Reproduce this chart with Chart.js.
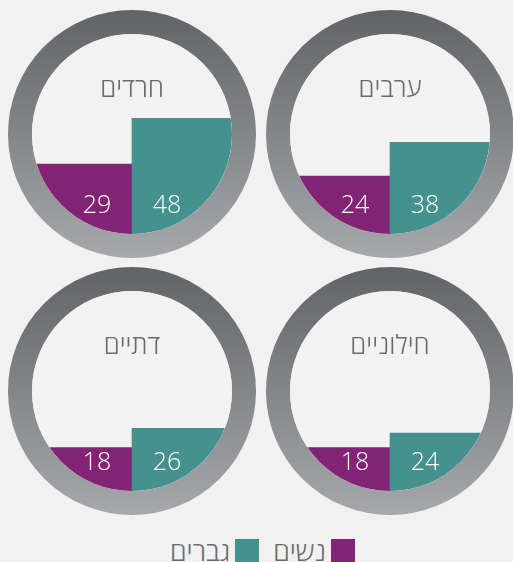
<!DOCTYPE html>
<html lang="he">
<head>
<meta charset="utf-8">
<script src="https://cdn.jsdelivr.net/npm/chart.js@4/dist/chart.umd.min.js"></script>
<style>
html,body{margin:0;padding:0;background:#f1f1f1;overflow:hidden;}
body{width:513px;height:562px;position:relative;font-family:"Open Sans","DejaVu Sans",sans-serif;}
canvas{position:absolute;}
#legend{position:absolute;top:539px;right:158px;display:flex;direction:rtl;align-items:center;color:#6b6b6b;font-size:27px;font-weight:300;line-height:23px;height:23px;}
#legend .box{width:24px;height:23px;margin-left:5px;}
#legend .lbl{margin-left:14px;}
</style>
</head>
<body>
<canvas id="c0" width="250" height="250" style="left:7px;top:9px"></canvas>
<canvas id="c1" width="250" height="250" style="left:265px;top:9px"></canvas>
<canvas id="c2" width="250" height="250" style="left:7px;top:266px"></canvas>
<canvas id="c3" width="250" height="250" style="left:265px;top:266px"></canvas>
<div id="legend"></div>
<script>
// data
const groups=["חרדים","ערבים","דתיים","חילוניים"];
const women=[29,24,18,18];
const men=[48,38,26,24];
const seriesNames=["נשים","גברים"];
const colors=["#822374","#45918d"];
const yMax=83;

const ringPlugin={
id:"ring",
beforeDatasetsDraw(chart){
const a=chart.chartArea,ctx=chart.ctx;
const cx=(a.left+a.right)/2,cy=(a.top+a.bottom)/2;
const r=(a.right-a.left)/2;
let g=ctx.createLinearGradient(0,cy-r-24,0,cy+r+24);
g.addColorStop(0,"#626366");
g.addColorStop(1,"#a7a8ab");
ctx.save();
ctx.beginPath();
ctx.arc(cx,cy,r+12,0,Math.PI*2);
ctx.lineWidth=24;
ctx.strokeStyle=g;
ctx.stroke();
ctx.beginPath();
ctx.arc(cx,cy,r,0,Math.PI*2);
ctx.fillStyle="#f2f2f2";
ctx.fill();
// title
ctx.fillStyle="#6b6b6b";
ctx.font="300 26px 'Open Sans','DejaVu Sans',sans-serif";
ctx.textAlign="center";
ctx.textBaseline="middle";
ctx.fillText(chart.options.plugins.ring.title,cx,cy-44);
// clip bars to circle
ctx.beginPath();
ctx.arc(cx,cy,r,0,Math.PI*2);
ctx.clip();
},
afterDatasetsDraw(chart){
const ctx=chart.ctx;
ctx.restore();
const a=chart.chartArea;
const meta=chart.getDatasetMeta(0);
const vals=chart.data.datasets[0].data;
ctx.save();
ctx.fillStyle="#ffffff";
ctx.font="300 25px 'Open Sans','DejaVu Sans',sans-serif";
ctx.textAlign="center";
ctx.textBaseline="middle";
meta.data.forEach((bar,i)=>{
let dx=i==0?15:-15;
ctx.fillText(vals[i],bar.x+dx,a.bottom-28);
});
ctx.restore();
}
};

groups.forEach((name,i)=>{
new Chart(document.getElementById("c"+i),{
type:"bar",
data:{
labels:seriesNames,
datasets:[{data:[women[i],men[i]],backgroundColor:colors,borderWidth:0,barPercentage:1,categoryPercentage:1}]
},
options:{
responsive:false,
animation:false,
layout:{padding:25},
plugins:{legend:{display:false},tooltip:{enabled:false},ring:{title:name}},
scales:{
x:{display:false},
y:{display:false,min:0,max:yMax}
}
},
plugins:[ringPlugin]
});
});

const legend=document.getElementById("legend");
seriesNames.forEach((s,i)=>{
let b=document.createElement("div");
b.className="box";b.style.background=colors[i];
legend.appendChild(b);
let t=document.createElement("div");
t.className="lbl";t.textContent=s;
legend.appendChild(t);
});
</script>
</body>
</html>
